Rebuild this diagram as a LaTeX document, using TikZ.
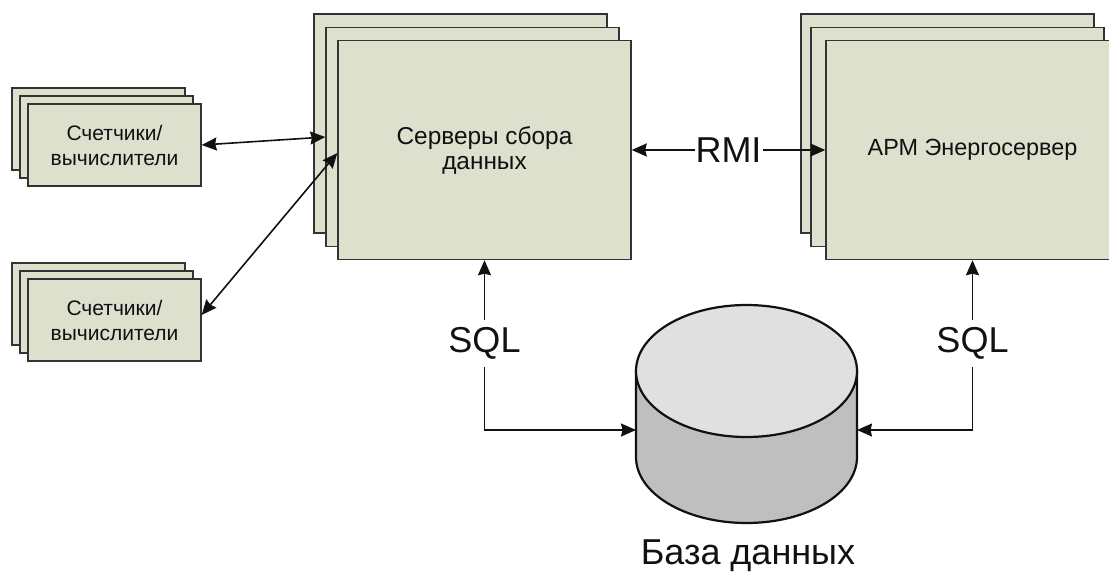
\documentclass[tikz,border=0pt]{standalone}
\usepackage{fontspec}
\setmainfont{Liberation Sans}
\usetikzlibrary{arrows.meta}
\definecolor{boxfill}{HTML}{DCE0CC}
\definecolor{edge}{HTML}{333333}
\definecolor{ink}{HTML}{111111}
\definecolor{dbtop}{HTML}{E0E0E0}
\definecolor{dbside}{HTML}{BFBFBF}
\tikzset{
  card/.style={draw=edge, fill=boxfill, line width=1.4pt, rectangle, inner sep=0pt, text=ink},
  meter/.style={card, minimum width=173pt, minimum height=82pt,
    align=center, font=\fontsize{21}{25}\selectfont},
  bigbox/.style={card, minimum width=293pt, minimum height=219pt,
    align=center, font=\fontsize{24.4}{25}\selectfont},
  tip/.tip={Stealth[length=15pt, width=13pt, inset=1.5pt]},
  conn/.style={line width=1.6pt, draw=ink, tip-tip},
  lbl/.style={fill=white, text=ink, font=\fontsize{36}{40}\selectfont},
}
\begin{document}
\begin{tikzpicture}[x=1pt, y=-1pt]
\useasboundingbox (0,0) rectangle (1109,576);
\clip (0,0) rectangle (1109,576);

% meters / calculators, upper stack
\node[meter] (c1a) at (98.5,129) {};
\node[meter] (c1b) at (106.5,137) {};
\node[meter] (c1c) at (114.5,145) {Счетчики/\\вычислители};

% meters / calculators, lower stack
\node[meter] (c2a) at (98.5,304) {};
\node[meter] (c2b) at (106.5,312) {};
\node[meter] (c2c) at (114.5,320) {Счетчики/\\вычислители};

% data collection servers
\node[bigbox] (s1) at (460.5,123.5) {};
\node[bigbox] (s2) at (472.5,137) {};
\node[bigbox] (s3) at (484.5,150) {Серверы сбора\\данных};

% workstation servers
\node[bigbox] (a1) at (947.5,123.5) {};
\node[bigbox] (a2) at (957.5,137) {};
\node[bigbox, font=\fontsize{23.4}{25}\selectfont] (a3) at (972.5,150) {АРМ Энергосервер};

% database cylinder
\path[draw=ink, line width=2.2pt, fill=dbside]
  (636,371) -- (636,457) arc[start angle=180, end angle=0, x radius=110.5, y radius=66]
  -- (857,371) -- cycle;
\path[draw=ink, line width=2.2pt, fill=dbtop] (746.5,371) ellipse[x radius=110.5, y radius=66];
\coordinate (dbL) at (636,430);
\coordinate (dbR) at (857,430);
\node[text=ink, font=\fontsize{36}{40}\selectfont, inner sep=0pt] (dbname) at (748,556) {База данных};

% connectors
\draw[conn] (c1c.east) -- (s2.west);
\draw[conn] ([yshift=5pt]c2c.east) -- ([yshift=-3pt]s3.west);
\draw[conn] (s3.east) -- node[lbl, inner xsep=1pt, inner ysep=0pt] (rmi) {RMI} (a3.west);
\draw[conn] (s3.south) |- node[lbl, pos=0.245, inner sep=0pt, minimum height=47pt, minimum width=60pt] (sqlL) {SQL} (dbL);
\draw[conn] (a3.south) |- node[lbl, pos=0.245, inner sep=0pt, minimum height=47pt, minimum width=60pt] (sqlR) {SQL} (dbR);
\end{tikzpicture}
\end{document}
